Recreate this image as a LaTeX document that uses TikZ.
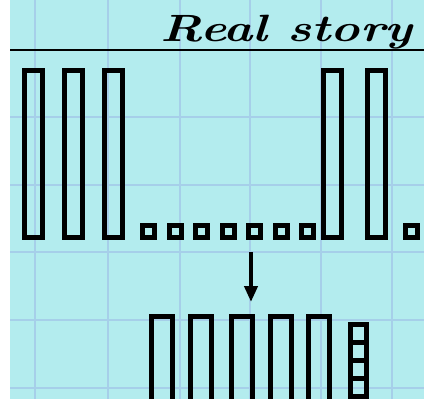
\documentclass[tikz,border=0pt]{standalone}
\usepackage{tikz}
\usetikzlibrary{arrows.meta,positioning}
\definecolor{SkyBg}{HTML}{B3ECEE}
\definecolor{GridBlue}{HTML}{A6CFE9}

\begin{document}
\begin{tikzpicture}[
    x=1pt, y=-1pt,
    gridline/.style={draw=GridBlue, line width=1.5pt},
    tallbar/.style={draw=black, line width=5pt, inner sep=0pt, minimum width=18pt, minimum height=167pt},
    lowbar/.style={draw=black, line width=5pt, inner sep=0pt, minimum width=21pt, minimum height=120pt},
    smallsq/.style={draw=black, line width=5pt, inner sep=0pt, minimum width=12pt, minimum height=12pt},
    stacksq/.style={draw=black, line width=5pt, inner sep=0pt, minimum width=16pt, minimum height=18pt}
]

  % Fundo e grade
  \clip (0,0) rectangle (424,399);
  \fill[white] (0,0) rectangle (424,399);
  \fill[SkyBg] (10,0) rectangle (424,399);
  \draw[gridline] (35,0) -- (35,399);
  \draw[gridline] (108,0) -- (108,399);
  \draw[gridline] (180,0) -- (180,399);
  \draw[gridline] (250,0) -- (250,399);
  \draw[gridline] (321,0) -- (321,399);
  \draw[gridline] (392,0) -- (392,399);
  \draw[gridline] (10,117) -- (424,117);
  \draw[gridline] (10,185) -- (424,185);
  \draw[gridline] (10,252) -- (424,252);
  \draw[gridline] (10,320) -- (424,320);
  \draw[gridline] (10,388) -- (424,388);

  % =========================================================================
  % TITULO
  % =========================================================================
  \node[anchor=base east, inner sep=0pt, font=\fontsize{38}{42}\selectfont\bfseries\itshape, xscale=1.3, transform shape] (title) at (413,41) {Real story};
  \draw[line width=2pt] (10,50) -- (424,50);

  % =========================================================================
  % LINHA DE CIMA
  % =========================================================================
  \node[tallbar] (t1) at (33.5,154) {};
  \node[tallbar] (t2) at (73.5,154) {};
  \node[tallbar] (t3) at (113.5,154) {};

  \node[smallsq] (s1) at (148.5,231.5) {};
  \node[smallsq] (s2) at (175,231.5) {};
  \node[smallsq] (s3) at (201.5,231.5) {};
  \node[smallsq] (s4) at (228,231.5) {};
  \node[smallsq] (s5) at (254.5,231.5) {};
  \node[smallsq] (s6) at (281,231.5) {};
  \node[smallsq] (s7) at (307.5,231.5) {};

  \node[tallbar] (t4) at (332.5,154) {};
  \node[tallbar] (t5) at (376,154) {};
  \node[smallsq] (s8) at (411.5,231.5) {};

  % =========================================================================
  % SETA
  % =========================================================================
  \coordinate (arr_from) at (251,252);
  \coordinate (arr_to) at (251,302);
  \draw[line width=4.5pt, -{Triangle[width=13pt,length=16pt]}] (arr_from) -- (arr_to);

  % =========================================================================
  % LINHA DE BAIXO
  % =========================================================================
  \node[lowbar] (b1) at (161.5,376) {};
  \node[lowbar] (b2) at (201,376) {};
  \node[lowbar] (b3) at (242,376) {};
  \node[lowbar] (b4) at (280.5,376) {};
  \node[lowbar] (b5) at (318.5,376) {};

  \node[stacksq] (k1) at (358.5,333) {};
  \node[stacksq] (k2) at (358.5,351) {};
  \node[stacksq] (k3) at (358.5,369) {};
  \node[stacksq] (k4) at (358.5,387) {};
  \node[stacksq] (k5) at (358.5,405) {};

\end{tikzpicture}
\end{document}
